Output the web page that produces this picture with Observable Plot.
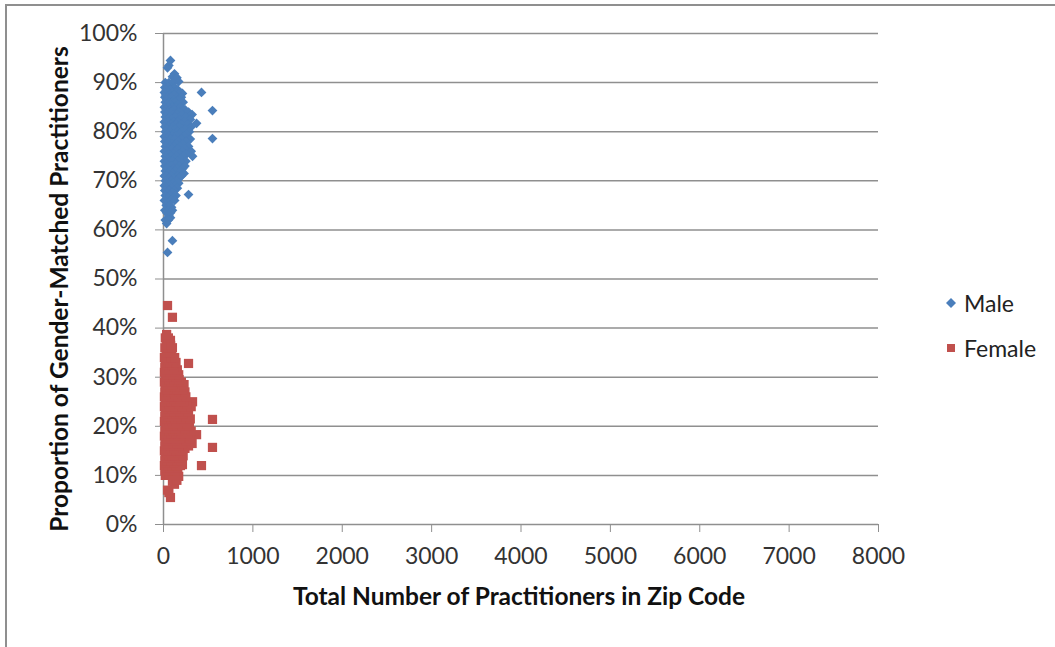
<!DOCTYPE html>
<html><head><meta charset="utf-8">
<script src="https://cdn.jsdelivr.net/npm/d3@7"></script>
<script src="https://cdn.jsdelivr.net/npm/@observablehq/plot@0.6"></script>
<style>
body{margin:0;background:#fff;font-family:Lato, sans-serif;}
#wrap{position:relative;width:1055px;height:647px;overflow:hidden;background:#fff;}
#frame{position:absolute;left:5px;top:4px;width:1080px;height:700px;border-left:2px solid #8f8f8f;border-top:2px solid #8f8f8f;pointer-events:none;}
#chart{position:absolute;left:0;top:0;}
#legend{position:absolute;left:944px;top:280px;font-size:23px;color:#222;}
#legend div{display:flex;align-items:center;height:45px;}
#legend svg{margin-right:5px;}
</style></head><body>
<div id="wrap"><div id="chart"></div><div id="frame"></div><div id="legend"></div></div>
<script>
const seriesNames = ["Male", "Female"];
const seriesColors = ["#4a7ebb", "#c0504d"];
const xTicks = [0, 1000, 2000, 3000, 4000, 5000, 6000, 7000, 8000];
const yTicks = [0, 10, 20, 30, 40, 50, 60, 70, 80, 90, 100];

// total practitioners in zip code (one entry per zip code)
const practitioners = [
  78, 60, 45, 123, 100, 140, 150, 170, 212, 425, 548, 280, 370, 548, 325, 280, 100, 45, 78, 60, 90, 40,
  20, 60, 110,
  15, 50, 90, 130,
  30, 75, 160,
  10, 55, 100, 140, 190,
  25, 70, 120,
  15, 45, 85, 150, 200,
  35, 110, 175,
  20, 60, 95, 130, 220,
  40, 80, 160,
  10, 55, 100, 140, 190,
  30, 75, 120, 240,
  15, 50, 90, 170, 280,
  35, 110, 150, 210, 320,
  20, 65, 130, 250,
  45, 90, 180, 300,
  10, 55, 115, 160, 230,
  30, 80, 140, 200, 270,
  15, 60, 105, 175, 310,
  40, 90, 130, 240,
  20, 70, 155, 205, 290,
  45, 110, 180, 260,
  10, 60, 95, 140, 230,
  30, 80, 125, 200, 300,
  15, 55, 165, 250,
  40, 100, 140, 215,
  20, 70, 120, 185, 280,
  50, 95, 160, 240,
  10, 35, 130, 205, 310,
  60, 110, 175, 260,
  20, 85, 145, 225,
  45, 120, 190,
  10, 70, 100, 160, 250,
  30, 135, 210,
  15, 55, 90, 175, 240,
  40, 115, 150, 215,
  20, 70, 130, 190,
  50, 100, 230,
  10, 35, 85, 160, 200,
  60, 120, 175,
  20, 90, 145,
  45, 110, 170,
  10, 70, 130,
  30, 90, 155,
  15, 60, 120,
  40, 100,
  20, 75, 140,
  50, 110,
  10, 85, 125,
  30, 70,
  15, 55, 100,
  35, 80,
  20, 55,
  35
];

// proportion of male practitioners (%)
const maleShare = [
  94.5, 93.5, 93.0, 91.8, 91.2, 90.8, 91.0, 90.2, 87.8, 88.0, 84.3, 82.7, 81.7, 78.6, 75.0, 67.2, 57.8, 55.4, 62.5, 63.0, 64.6, 65.5,
  90.0, 90.0, 90.0,
  89.0, 89.0, 89.0, 89.0,
  88.5, 88.5, 88.5,
  88.0, 88.0, 88.0, 88.0, 88.0,
  87.5, 87.5, 87.5,
  87.0, 87.0, 87.0, 87.0, 87.0,
  86.5, 86.5, 86.5,
  86.0, 86.0, 86.0, 86.0, 86.0,
  85.5, 85.5, 85.5,
  85.0, 85.0, 85.0, 85.0, 85.0,
  84.5, 84.5, 84.5, 84.5,
  84.0, 84.0, 84.0, 84.0, 84.0,
  83.5, 83.5, 83.5, 83.5, 83.5,
  83.0, 83.0, 83.0, 83.0,
  82.5, 82.5, 82.5, 82.5,
  82.0, 82.0, 82.0, 82.0, 82.0,
  81.5, 81.5, 81.5, 81.5, 81.5,
  81.0, 81.0, 81.0, 81.0, 81.0,
  80.5, 80.5, 80.5, 80.5,
  80.0, 80.0, 80.0, 80.0, 80.0,
  79.5, 79.5, 79.5, 79.5,
  79.0, 79.0, 79.0, 79.0, 79.0,
  78.5, 78.5, 78.5, 78.5, 78.5,
  78.0, 78.0, 78.0, 78.0,
  77.5, 77.5, 77.5, 77.5,
  77.0, 77.0, 77.0, 77.0, 77.0,
  76.5, 76.5, 76.5, 76.5,
  76.0, 76.0, 76.0, 76.0, 76.0,
  75.5, 75.5, 75.5, 75.5,
  75.0, 75.0, 75.0, 75.0,
  74.5, 74.5, 74.5,
  74.0, 74.0, 74.0, 74.0, 74.0,
  73.5, 73.5, 73.5,
  73.0, 73.0, 73.0, 73.0, 73.0,
  72.5, 72.5, 72.5, 72.5,
  72.0, 72.0, 72.0, 72.0,
  71.5, 71.5, 71.5,
  71.0, 71.0, 71.0, 71.0, 71.0,
  70.5, 70.5, 70.5,
  70.0, 70.0, 70.0,
  69.5, 69.5, 69.5,
  69.0, 69.0, 69.0,
  68.5, 68.5, 68.5,
  68.0, 68.0, 68.0,
  67.5, 67.5,
  67.0, 67.0, 67.0,
  66.5, 66.5,
  66.0, 66.0, 66.0,
  65.0, 65.0,
  64.0, 64.0, 64.0,
  63.5, 63.5,
  62.0, 62.0,
  61.3
];

// proportion of female practitioners (%)
const femaleShare = [
  5.5, 6.5, 7.0, 8.2, 8.8, 9.2, 9.0, 9.8, 12.2, 12.0, 15.7, 17.3, 18.3, 21.4, 25.0, 32.8, 42.2, 44.6, 37.5, 37.0, 35.4, 34.5,
  10.0, 10.0, 10.0,
  11.0, 11.0, 11.0, 11.0,
  11.5, 11.5, 11.5,
  12.0, 12.0, 12.0, 12.0, 12.0,
  12.5, 12.5, 12.5,
  13.0, 13.0, 13.0, 13.0, 13.0,
  13.5, 13.5, 13.5,
  14.0, 14.0, 14.0, 14.0, 14.0,
  14.5, 14.5, 14.5,
  15.0, 15.0, 15.0, 15.0, 15.0,
  15.5, 15.5, 15.5, 15.5,
  16.0, 16.0, 16.0, 16.0, 16.0,
  16.5, 16.5, 16.5, 16.5, 16.5,
  17.0, 17.0, 17.0, 17.0,
  17.5, 17.5, 17.5, 17.5,
  18.0, 18.0, 18.0, 18.0, 18.0,
  18.5, 18.5, 18.5, 18.5, 18.5,
  19.0, 19.0, 19.0, 19.0, 19.0,
  19.5, 19.5, 19.5, 19.5,
  20.0, 20.0, 20.0, 20.0, 20.0,
  20.5, 20.5, 20.5, 20.5,
  21.0, 21.0, 21.0, 21.0, 21.0,
  21.5, 21.5, 21.5, 21.5, 21.5,
  22.0, 22.0, 22.0, 22.0,
  22.5, 22.5, 22.5, 22.5,
  23.0, 23.0, 23.0, 23.0, 23.0,
  23.5, 23.5, 23.5, 23.5,
  24.0, 24.0, 24.0, 24.0, 24.0,
  24.5, 24.5, 24.5, 24.5,
  25.0, 25.0, 25.0, 25.0,
  25.5, 25.5, 25.5,
  26.0, 26.0, 26.0, 26.0, 26.0,
  26.5, 26.5, 26.5,
  27.0, 27.0, 27.0, 27.0, 27.0,
  27.5, 27.5, 27.5, 27.5,
  28.0, 28.0, 28.0, 28.0,
  28.5, 28.5, 28.5,
  29.0, 29.0, 29.0, 29.0, 29.0,
  29.5, 29.5, 29.5,
  30.0, 30.0, 30.0,
  30.5, 30.5, 30.5,
  31.0, 31.0, 31.0,
  31.5, 31.5, 31.5,
  32.0, 32.0, 32.0,
  32.5, 32.5,
  33.0, 33.0, 33.0,
  33.5, 33.5,
  34.0, 34.0, 34.0,
  35.0, 35.0,
  36.0, 36.0, 36.0,
  36.5, 36.5,
  38.0, 38.0,
  38.7
];

const rows = practitioners.map((x, i) => ({x, male: maleShare[i], female: femaleShare[i]}));
const gray = "#8f8f8f";
const textColor = "#333";

const chart = Plot.plot({
  width: 1055,
  height: 647,
  marginLeft: 163,
  marginRight: 177,
  marginTop: 33,
  marginBottom: 123,
  style: {fontFamily: "Lato, sans-serif", background: "transparent"},
  x: {domain: [0, 8000]},
  y: {domain: [0, 100]},
  marks: [
    Plot.gridY(yTicks, {stroke: gray, strokeOpacity: 1, strokeWidth: 1.5}),
    Plot.ruleX([0], {stroke: gray, strokeWidth: 1.5}),
    Plot.axisY(yTicks, {tickSize: 8, tickPadding: 18, tickFormat: d => d + "%", fontSize: 23, stroke: gray, fill: textColor, label: null}),
    Plot.axisX(xTicks, {tickSize: 8, tickPadding: 15, tickFormat: d => String(d), fontSize: 23, stroke: gray, fill: textColor, label: null}),
    Plot.dot(rows, {x: "x", y: "male", symbol: "diamond2", r: 4.4, fill: seriesColors[0], stroke: null}),
    Plot.dot(rows, {x: "x", y: "female", symbol: "square", r: 5.2, fill: seriesColors[1], stroke: null}),
    Plot.text(["Proportion of Gender-Matched Practitioners"], {frameAnchor: "left", textAnchor: "middle", dx: -103, dy: 10, rotate: -90, fontWeight: "bold", fontSize: 24.5, fill: "#111"}),
    Plot.text(["Total Number of Practitioners in Zip Code"], {frameAnchor: "bottom", textAnchor: "middle", dy: 80, dx: -2, fontWeight: "bold", fontSize: 24.5, fill: "#111"})
  ]
});
document.getElementById("chart").appendChild(chart);

// legend
const legend = d3.select("#legend");
const lm = legend.append("div");
lm.append("svg").attr("width", 15).attr("height", 14).append("path")
  .attr("d", "M7,2L12,7L7,12L2,7Z").attr("fill", seriesColors[0]);
lm.append("span").text(seriesNames[0]);
const lf = legend.append("div");
lf.append("svg").attr("width", 15).attr("height", 14).append("rect")
  .attr("x", 3).attr("y", 3).attr("width", 8).attr("height", 8).attr("fill", seriesColors[1]);
lf.append("span").text(seriesNames[1]);
</script>
</body></html>
